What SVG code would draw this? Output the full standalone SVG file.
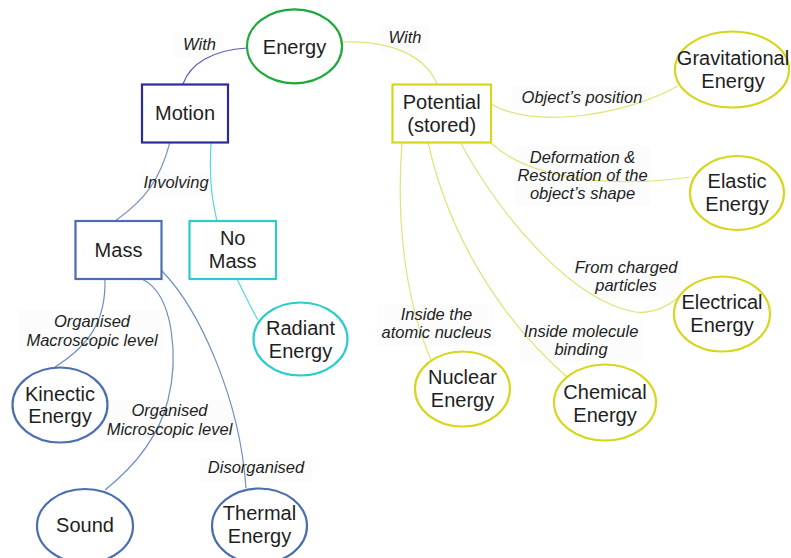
<svg xmlns="http://www.w3.org/2000/svg" width="791" height="558" viewBox="0 0 791 558">
<style>
text{font-family:"Liberation Sans",Arial,sans-serif;fill:#1e1e1e;text-anchor:middle}
.n{font-size:20px}
.l{font-size:16.5px;font-style:italic}
.bg{fill:#fcfcfc}
.c{fill:none;stroke-width:1.2}
.node{fill:#fff;stroke-width:2.2}
.y{stroke:#d6d61e}
.b{stroke:#4a6eae}
.cy{stroke:#2ccccc}
</style>
<rect width="791" height="558" fill="#fff"/>
<g id="label-bgs">
<rect class="bg" x="175" y="32" width="49" height="26"/>
<rect class="bg" x="380" y="26" width="50" height="26"/>
<rect class="bg" x="512" y="86" width="140" height="24"/>
<rect class="bg" x="514" y="146" width="137" height="60"/>
<rect class="bg" x="138" y="172" width="76" height="24"/>
<rect class="bg" x="18" y="310" width="148" height="42"/>
<rect class="bg" x="100" y="400" width="140" height="42"/>
<rect class="bg" x="200" y="458" width="112" height="24"/>
<rect class="bg" x="570" y="257" width="112" height="42"/>
<rect class="bg" x="377" y="304" width="118" height="42"/>
<rect class="bg" x="520" y="321" width="122" height="42"/>
</g>
<g id="connectors">
<path class="c" stroke="#5a5abb" d="M247,48 C212,50 190,64 183,84"/>
<path class="c" stroke="#e2e27a" d="M342,42 C390,40 425,55 437,84"/>
<path class="c" stroke="#e2e27a" d="M491,104 C530,128 620,118 678,86"/>
<path class="c" stroke="#e2e27a" d="M491,143 C525,175 600,190 690,177"/>
<path class="c" stroke="#e2e27a" d="M460,142 C500,215 570,300 635,312 C655,314 670,305 681,295"/>
<path class="c" stroke="#e2e27a" d="M428,142 C445,220 490,310 567,377"/>
<path class="c" stroke="#e2e27a" d="M402,142 C396,220 405,300 431,360"/>
<path class="c" stroke="#7d96c6" d="M170,142 C160,180 145,200 115,221"/>
<path class="c" stroke="#55dada" d="M211,142 C209,180 212,200 217,221"/>
<path class="c" stroke="#55dada" d="M237,279 C244,293 250,306 258,320"/>
<path class="c" stroke="#6f8fc0" d="M105,279 C106,320 90,345 55,367"/>
<path class="c" stroke="#6f8fc0" d="M142,279 C175,295 178,360 168,400 C158,440 130,470 105,490"/>
<path class="c" stroke="#6f8fc0" d="M162,271 C200,310 240,400 246,488"/>
</g>
<g id="labels">
<text class="l" x="199.5" y="50">With</text>
<text class="l" x="405" y="43">With</text>
<text class="l" x="582" y="103">Object’s position</text>
<text class="l" x="582.5" y="163">Deformation &amp;</text>
<text class="l" x="582.5" y="181">Restoration of the</text>
<text class="l" x="582.5" y="199">object’s shape</text>
<text class="l" x="176" y="188">Involving</text>
<text class="l" x="92" y="327">Organised</text>
<text class="l" x="92" y="346">Macroscopic level</text>
<text class="l" x="169.5" y="416">Organised</text>
<text class="l" x="169.5" y="435">Microscopic level</text>
<text class="l" x="256" y="473">Disorganised</text>
<text class="l" x="626" y="273">From charged</text>
<text class="l" x="626" y="291">particles</text>
<text class="l" x="436.5" y="320">Inside the</text>
<text class="l" x="436.5" y="338">atomic nucleus</text>
<text class="l" x="581" y="337">Inside molecule</text>
<text class="l" x="581" y="355">binding</text>
</g>
<g id="energy"><ellipse class="node" cx="294.5" cy="46.3" rx="47.5" ry="37" stroke="#1fa83c" stroke-width="3"/><text class="n" x="294.5" y="54">Energy</text></g>
<g id="motion"><rect class="node" x="142" y="84.5" width="86" height="58" stroke="#2b2b9b"/><text class="n" x="185" y="120">Motion</text></g>
<g id="potential"><rect class="node y" x="392.5" y="84.5" width="98.5" height="58"/><text class="n" x="441.7" y="109">Potential</text><text class="n" x="441.7" y="132">(stored)</text></g>
<g id="mass"><rect class="node b" x="75.5" y="221" width="86" height="58"/><text class="n" x="118.5" y="257">Mass</text></g>
<g id="nomass"><rect class="node cy" x="189.5" y="221" width="86.5" height="58"/><text class="n" x="232.7" y="245">No</text><text class="n" x="232.7" y="268">Mass</text></g>
<g id="radiant"><ellipse class="node cy" cx="300.5" cy="339" rx="47" ry="36.5"/><text class="n" x="300.5" y="335">Radiant</text><text class="n" x="300.5" y="358">Energy</text></g>
<g id="kinetic"><ellipse class="node b" cx="60" cy="405" rx="47.5" ry="37.5"/><text class="n" x="60" y="401">Kinectic</text><text class="n" x="60" y="423">Energy</text></g>
<g id="sound"><ellipse class="node b" cx="85" cy="526" rx="48" ry="37"/><text class="n" x="85" y="532">Sound</text></g>
<g id="thermal"><ellipse class="node b" cx="259.5" cy="526" rx="47.5" ry="37.5"/><text class="n" x="259.5" y="520">Thermal</text><text class="n" x="259.5" y="543">Energy</text></g>
<g id="gravitational"><ellipse class="node y" cx="732" cy="69.5" rx="57" ry="38"/><text class="n" x="733" y="65">Gravitational</text><text class="n" x="733" y="88">Energy</text></g>
<g id="elastic"><ellipse class="node y" cx="737" cy="193" rx="47" ry="37"/><text class="n" x="737" y="188">Elastic</text><text class="n" x="737" y="211">Energy</text></g>
<g id="electrical"><ellipse class="node y" cx="722" cy="314" rx="48" ry="37.5"/><text class="n" x="722" y="309">Electrical</text><text class="n" x="722" y="332">Energy</text></g>
<g id="nuclear"><ellipse class="node y" cx="462.5" cy="389" rx="47.5" ry="37.5"/><text class="n" x="462.5" y="384">Nuclear</text><text class="n" x="462.5" y="407">Energy</text></g>
<g id="chemical"><ellipse class="node y" cx="605" cy="402.5" rx="51" ry="38"/><text class="n" x="605" y="399">Chemical</text><text class="n" x="605" y="422">Energy</text></g>
</svg>
